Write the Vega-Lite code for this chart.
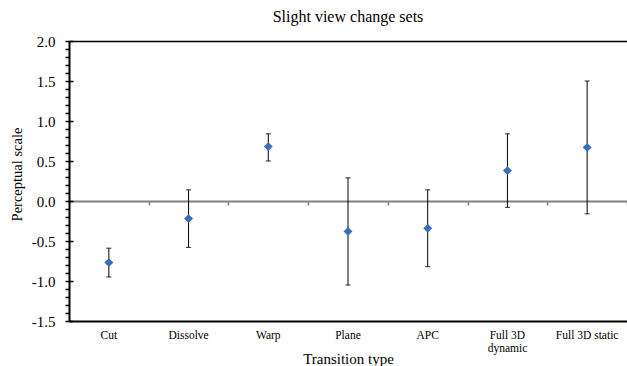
{
  "$schema": "https://vega.github.io/schema/vega-lite/v6.json",
  "width": 558,
  "height": 280,
  "autosize": {"type": "none"},
  "padding": {"left": 69, "top": 41, "right": 0, "bottom": 45},
  "background": "white",
  "title": {
    "text": "Slight view change sets",
    "font": "Liberation Serif",
    "fontSize": 16,
    "fontWeight": "normal",
    "color": "#000000",
    "offset": 9
  },
  "config": {
    "font": "Liberation Serif",
    "view": {"stroke": null},
    "axis": {
      "grid": false,
      "labelFont": "Liberation Serif",
      "titleFont": "Liberation Serif",
      "labelColor": "#000000",
      "titleColor": "#000000",
      "titleFontWeight": "normal"
    }
  },
  "data": {
    "values": [
      {"type": "Cut", "mean": -0.77, "lo": -0.95, "hi": -0.59},
      {"type": "Dissolve", "mean": -0.22, "lo": -0.58, "hi": 0.14},
      {"type": "Warp", "mean": 0.68, "lo": 0.5, "hi": 0.84},
      {"type": "Plane", "mean": -0.38, "lo": -1.05, "hi": 0.29},
      {"type": "APC", "mean": -0.34, "lo": -0.82, "hi": 0.14},
      {"type": "Full 3D dynamic", "mean": 0.38, "lo": -0.08, "hi": 0.84},
      {"type": "Full 3D static", "mean": 0.67, "lo": -0.16, "hi": 1.5}
    ]
  },
  "resolve": {"axis": {"x": "independent", "y": "independent"}},
  "layer": [
    {
      "mark": {"type": "rule", "color": "#000000", "strokeWidth": 1},
      "encoding": {
        "x": {
          "field": "type", "type": "nominal", "sort": null,
          "scale": {"type": "band", "paddingInner": 0, "paddingOuter": 0},
          "axis": {
            "orient": "bottom",
            "title": "Transition type",
            "titleFont": "Liberation Serif, serif",
            "titleFontSize": 15,
            "titleFontWeight": "normal",
            "titleBaseline": "middle",
            "titleY": 37,
            "labelFont": "Liberation Serif, serif",
            "labelAngle": 0,
            "labelFontSize": 11.5,
            "labelLineHeight": 13,
            "labelBaseline": "top",
            "labelPadding": 8,
            "ticks": false,
            "tickSize": 0,
            "domainColor": "#000000",
            "domainWidth": 2,
            "labelExpr": "datum.label == 'Full 3D dynamic' ? ['Full 3D', 'dynamic'] : datum.label"
          }
        },
        "y": {
          "field": "lo", "type": "quantitative",
          "scale": {"domain": [-1.5, 2], "nice": false, "zero": false},
          "axis": {
            "orient": "left",
            "title": "Perceptual scale",
            "titleFont": "Liberation Serif, serif",
            "titleFontWeight": "normal",
            "titleFontSize": 14.5,
            "titleX": -52,
            "titleY": 133,
            "titleBaseline": "middle",
            "values": [-1.5,-1.4,-1.3,-1.2,-1.1,-1.0,-0.9,-0.8,-0.7,-0.6,-0.5,-0.4,-0.3,-0.2,-0.1,0,0.1,0.2,0.3,0.4,0.5,0.6,0.7,0.8,0.9,1.0,1.1,1.2,1.3,1.4,1.5,1.6,1.7,1.8,1.9,2.0],
            "labelExpr": "abs(datum.value*2 - round(datum.value*2)) < 0.001 ? (datum.value < -0.001 ? '-' : '') + format(abs(datum.value), '.1f') : ''",
            "labelFont": "Liberation Serif, serif",
            "labelFontSize": 15,
            "labelPadding": 10,
            "tickSize": 4,
            "tickColor": "#000000",
            "tickWidth": 1.5,
            "domainColor": "#000000",
            "domainWidth": 2
          }
        },
        "y2": {"field": "hi"}
      }
    },
    {
      "mark": {"type": "tick", "color": "#000000", "orient": "horizontal", "size": 5, "thickness": 1.2},
      "encoding": {
        "x": {
          "field": "type", "type": "nominal", "sort": null,
          "scale": {"type": "band", "paddingInner": 0, "paddingOuter": 0},
          "axis": {
            "orient": "bottom",
            "offset": -120,
            "title": null,
            "labels": false,
            "tickBand": "extent",
            "tickSize": 4,
            "tickColor": "#808080",
            "tickWidth": 1.5,
            "domainColor": "#808080",
            "domainWidth": 2
          }
        },
        "y": {
          "field": "lo", "type": "quantitative",
          "axis": {
            "orient": "left",
            "title": null,
            "labels": false,
            "domain": false,
            "values": [-1.5,-1.0,-0.5,0,0.5,1.0,1.5,2.0],
            "tickSize": -4,
            "tickColor": "#000000",
            "tickWidth": 1.5
          }
        }
      }
    },
    {
      "mark": {"type": "tick", "color": "#000000", "orient": "horizontal", "size": 5, "thickness": 1.2},
      "encoding": {
        "x": {
          "field": "type", "type": "nominal", "sort": null,
          "scale": {"type": "band", "paddingInner": 0, "paddingOuter": 0},
          "axis": {
            "orient": "top",
            "title": null,
            "labels": false,
            "ticks": false,
            "domainColor": "#000000",
            "domainWidth": 1.5
          }
        },
        "y": {"field": "hi", "type": "quantitative", "axis": null}
      }
    },
    {
      "mark": {"type": "point", "shape": "diamond", "filled": true, "size": 80, "color": "#3D6DB5", "opacity": 1},
      "encoding": {
        "x": {
          "field": "type", "type": "nominal", "sort": null,
          "scale": {"type": "band", "paddingInner": 0, "paddingOuter": 0},
          "axis": null
        },
        "y": {"field": "mean", "type": "quantitative", "axis": null}
      }
    }
  ]
}
